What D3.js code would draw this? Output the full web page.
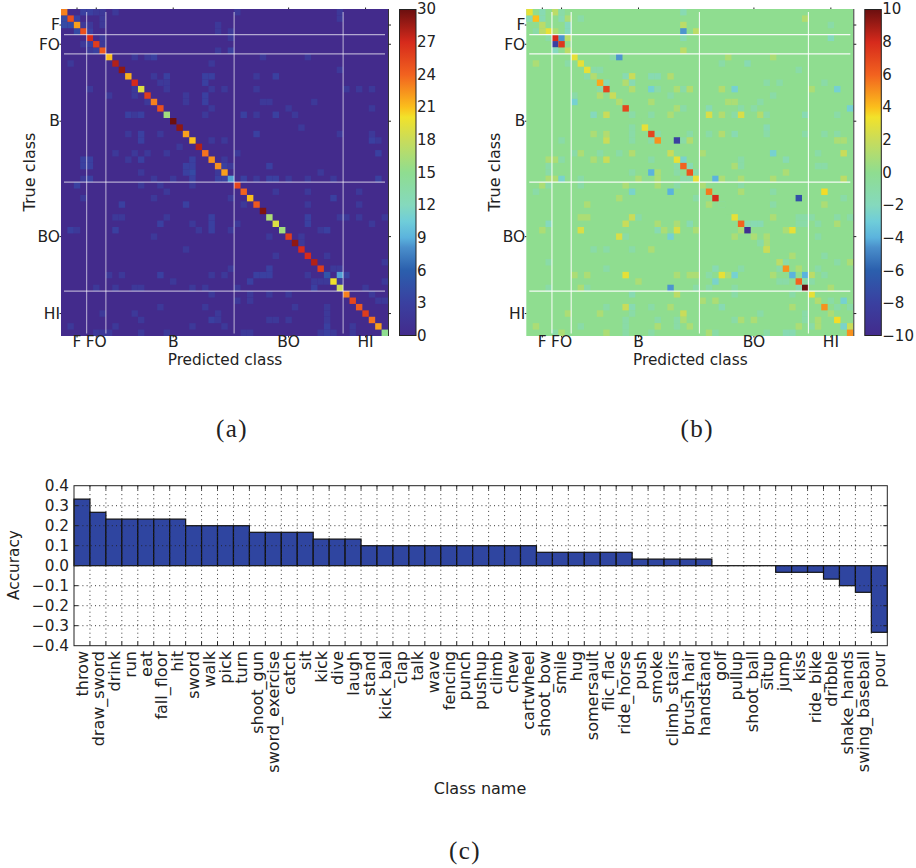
<!DOCTYPE html>
<html>
<head>
<meta charset="utf-8">
<script src="https://d3js.org/d3.v7.min.js"></script>
<style>
body { margin: 0; background: #fff; }
svg { display: block; }
text { font-family: "DejaVu Sans", sans-serif; fill: #222; }
.cap { font-family: "Liberation Serif", serif; font-size: 25px; letter-spacing: 1.5px; }
</style>
</head>
<body>
<svg id="fig" width="916" height="868"></svg>
<script>
// class names, sorted as in the bar chart
var classNames = ["throw","draw_sword","drink","run","eat","fall_floor","hit","sword","walk","pick","turn",
  "shoot_gun","sword_exercise","catch","sit","kick","dive","laugh","stand","kick_ball","clap","talk","wave",
  "fencing","punch","pushup","climb","chew","cartwheel","shoot_bow","smile","hug","somersault","flic_flac",
  "ride_horse","push","smoke","climb_stairs","brush_hair","handstand","golf","pullup","shoot_ball","situp",
  "jump","kiss","ride_bike","dribble","shake_hands","swing_baseball","pour"];
var accuracy = [.333,.267,.233,.233,.233,.233,.233,.2,.2,.2,.2,.167,.167,.167,.167,.133,.133,.133,
  .1,.1,.1,.1,.1,.1,.1,.1,.1,.1,.1,.067,.067,.067,.067,.067,.067,.033,.033,.033,.033,.033,
  0,0,0,0,-.033,-.033,-.033,-.067,-.1,-.133,-.333];

// groups marked on the confusion matrices
var groupNames = ["F","FO","B","BO","HI"];
var groupTicks = [2.5,5.5,17.5,35.5,47.5];
var groupEdges = [4,7,27,44];

// confusion matrix (a): diagonal, then [row, col, value]
var diagA = [23,25,22,25,27,26,24.5,21,28,29,21.5,27,19,26,23,25,16,30,29,22,21,28,23.5,22.5,22.5,22,8.5,
  25.5,24,21,24.5,29.5,16.5,19,16,26,29,27,27,28,26,5,20,18,23,25.5,24.5,26,23.5,22,15];
var offA = [[0,3,3],[0,4,3],[0,5,2],[0,6,2],[0,8,2],[0,27,2],[0,43,2],
  [1,0,4],[1,2,3],[1,6,2],[1,43,2],
  [2,0,4],[2,1,4],[2,3,2],[2,4,2],[2,6,2],[2,24,2],
  [3,2,4],[3,4,3],[3,24,2],[3,26,2],
  [4,6,2],[4,26,2],
  [5,3,2],[5,4,3],[5,6,2],
  [6,4,2],[6,5,3],[6,24,2],[6,26,3],
  [7,11,2],[7,13,2],[7,14,3],[7,31,2],[7,38,2],
  [8,1,2],[8,23,2],
  [9,43,2],
  [10,14,2],[10,16,3],[10,22,3],[10,23,3],[10,30,2],[10,33,3],
  [11,15,2],[11,16,2],[11,22,3],
  [12,4,2],[12,11,2],[12,16,2],[12,23,2],[12,25,2],[12,30,2],[12,44,2],[12,46,2],[12,48,2],
  [13,7,2],[13,11,2],[13,19,2],[13,22,3],
  [14,13,2],[14,19,2],[14,22,3],[14,31,2],[14,32,2],[14,39,2],
  [15,23,2],[15,35,2],[15,48,2],
  [16,10,3],[16,11,2],[16,12,3],[16,22,2],[16,28,3],[16,30,2],[16,33,3],[16,36,2],
  [18,37,2],
  [19,10,2],[19,12,3],[19,15,2],[19,30,3],[19,43,2],[19,48,2],
  [20,12,3],[20,23,2],[20,25,2],[20,48,3],[20,49,2],
  [21,18,2],
  [22,8,2],[22,11,2],[22,13,2],[22,16,2],[22,27,2],[22,49,3],
  [23,3,3],[23,4,3],[23,10,2],[23,12,3],[23,20,3],[23,25,2],
  [24,3,3],[24,4,3],[24,19,3],[24,20,3],[24,25,3],[24,26,2],[24,32,3],
  [25,12,2],[25,19,3],[25,20,4],[25,24,2],[25,40,2],
  [26,3,2],[26,4,3],[26,14,2],[26,17,2],[26,20,3],[26,24,3],[26,25,3],[26,28,3],[26,30,2],[26,32,3],[26,33,3],[26,35,2],[26,38,2],[26,42,2],[26,49,3],
  [27,2,3],[27,12,2],[27,15,2],[27,20,2],
  [28,16,2],[28,33,2],[28,38,2],[28,46,2],
  [29,3,2],[29,14,2],[29,26,2],[29,42,3],
  [30,9,3],[30,19,3],[30,28,2],[30,38,2],[30,46,2],
  [32,8,2],[32,9,2],[32,16,2],[32,23,3],[32,38,3],[32,43,2],[32,44,2],[32,46,2],[32,50,2],
  [33,15,3],[33,20,2],[33,23,3],[33,27,2],[33,38,3],[33,48,2],
  [34,1,3],[34,2,2],[34,8,3],[34,21,2],[34,23,3],[34,26,2],[34,40,2],[34,41,3],
  [35,14,2],[35,32,2],[35,37,2],
  [36,37,2],
  [37,19,2],
  [38,33,2],[38,41,2],
  [39,50,2],
  [40,26,2],[40,32,3],[40,42,2],[40,43,2],
  [41,7,2],[41,9,2],[41,15,3],[41,23,2],[41,25,2],[41,30,3],[41,31,3],[41,32,3],[41,38,2],[41,43,8.5],[41,44,3],
  [42,17,2],[42,29,3],[42,39,2],[42,40,2],[42,41,2],[42,43,2],[42,50,2],
  [43,5,2],[43,8,2],[43,11,2],[43,12,2],[43,20,2],[43,22,2],[43,27,2],[43,39,3],[43,47,2],
  [44,23,2],[44,29,2],[44,32,2],[44,35,2],[44,48,2],
  [45,27,2],[45,29,2],[45,49,2],[45,50,2],
  [46,15,2],[46,22,2],[46,36,2],[46,41,2],
  [47,6,2],[47,11,2],[47,24,2],[47,41,2],
  [48,12,2],[48,23,3],[48,24,2],[48,32,2],[48,33,2],[48,35,2],[48,41,2],
  [49,1,2],[49,8,2],[49,20,2],[49,25,2],[49,41,3],[49,45,2],
  [50,5,2],[50,6,2],[50,7,2],[50,12,2],[50,16,2],[50,28,2],[50,29,2],[50,40,2],[50,41,3],[50,42,2],[50,45,2]];

// difference matrix (b): diagonal, then [row, col, value]
var diagB = [3,4,1.5,3,8,7.5,1.5,3,3,3,1.2,4.5,7,2,1.2,7,-1,0,3,7,5,0,2,3,6,6.5,3,1,5.5,8,0,0,3,6,-9.5,1,-1,2,0,1.5,5,-4,6,10,3,1.2,5,1,3.5,-2.5,5];
var offB = [[0,2,-1.5],[0,4,1.5],[0,5,-1],[0,24,-1.5],
  [1,0,-1.5],[1,2,-1.5],[1,5,-1.5],[1,6,1],[1,8,-1],[1,43,1.2],
  [2,6,-2],[2,24,1.5],[2,47,-1],
  [3,1,-1],[3,2,1.5],[3,4,1],[3,6,-2],[3,24,-4.5],[3,26,1.5],
  [4,3,-1],[4,5,-4.5],[4,6,1.5],[4,24,-1.5],[4,47,-2],
  [5,4,-8],
  [6,4,-2],[6,24,1.5],
  [7,13,-1],[7,14,-4.5],[7,31,1],[7,38,1],
  [8,1,1],[8,6,-1],[8,30,-1],[8,34,-1.5],
  [9,10,-1],[9,11,-1],[9,42,-1],
  [10,9,-1],[10,15,-1.5],[10,16,2],[10,19,-1.5],[10,20,-1.5],[10,22,1.2],
  [11,12,-1.5],[11,15,1.2],[11,16,-1.5],[11,37,-1],[11,39,-1],[11,46,-1],
  [12,11,-1],[12,16,1.2],[12,19,-2.7],[12,20,-1],[12,23,1],[12,24,-1],[12,25,1.2],[12,30,1.2],[12,32,-2.7],[12,44,1],[12,48,-2.7],
  [13,7,-1],[13,11,1.2],[13,22,-1],[13,38,-1],
  [14,7,-2.7],[14,19,1],[14,31,1],[14,32,1],[14,36,-1],
  [15,23,1],[15,24,-1],[15,28,-1.5],[15,33,-1],[15,35,-1],[15,50,-2.7],
  [16,10,-2],[16,12,2],[16,16,-1],[16,19,-1],[16,22,1],[16,28,2.5],[16,30,1.2],[16,32,-1],[16,33,2.5],[16,36,1.2],[16,37,-1],[16,43,-1.5],[16,48,-1],
  [18,16,-1],[18,37,-1.5],
  [19,10,1],[19,12,1.2],[19,16,-1],[19,20,-1],[19,25,-1],[19,28,-1],[19,30,1.2],[19,32,-1.5],[19,37,-1],[19,43,-1],[19,46,-1],[19,48,-1],
  [20,5,-1],[20,12,2],[20,16,-1],[20,19,-1],[20,23,-8],[20,24,-1],[20,25,1.2],[20,48,1],[20,49,1],
  [22,7,-1],[22,8,1],[22,11,-1],[22,14,-1],[22,16,1.2],[22,27,1],[22,38,-2.7],[22,45,-1],[22,49,2],
  [23,3,1],[23,4,1],[23,5,-1],[23,10,1],[23,12,2],[23,19,-1],[23,24,-2.5],[23,33,-1],[23,40,-1.5],
  [24,3,-1],[24,23,-1],[24,25,-1.5],[24,32,1],[24,33,-1],[24,45,-1],[24,46,-1],
  [25,3,-1],[25,16,-1],[25,19,-4],[25,20,1],[25,23,-1],[25,26,-1],[25,40,1],
  [26,3,1],[26,4,1],[26,5,-2.5],[26,8,-1],[26,17,1],[26,20,1],[26,24,-1],[26,25,-1],[26,29,-4],[26,30,1],[26,33,1],[26,38,1],[26,49,1.5],
  [27,2,1],[27,3,-1],[27,8,-1],[27,15,1],[27,20,1],[27,23,-1],[27,33,-1],
  [28,1,-1],[28,16,-2.5],[28,22,-4],[28,33,1],[28,38,-1],[28,46,3.5],
  [29,14,1],[29,26,-1],[29,42,-7],[29,49,-1],
  [30,9,1],[30,28,1],[30,30,-1.5],[30,38,-1],[30,46,1],
  [32,8,1],[32,9,1],[32,16,2],[32,17,-1],[32,38,1],[32,42,-1],[32,43,-1],[32,44,-1],[32,48,-1],[32,50,-1],
  [33,3,-2],[33,15,2],[33,20,1],[33,23,1],[33,25,-1.5],[33,34,-1.5],[33,35,-1.5],[33,36,-1.5],[33,42,-1],[33,43,-1],[33,45,-1],[33,48,1],
  [34,2,1],[34,8,2.5],[34,20,-1.5],[34,21,1],[34,23,2.5],[34,26,1],[34,33,1],[34,40,1],[34,41,3],
  [35,14,2.5],[35,15,-1],[35,22,-2.7],[35,32,1],[35,37,1],[35,45,-1],
  [36,36,-1],[36,37,1],
  [37,10,-1],[37,12,-1],[37,16,-1],[37,19,1],[37,37,2],
  [38,41,1],[38,46,-1],
  [39,3,-1],[39,40,-1],[39,48,-1],[39,50,1],
  [40,12,-1],[40,29,-1.5],[40,33,-1],[40,39,-1],[40,42,1],[40,45,-1],
  [41,7,1],[41,9,1],[41,15,3],[41,23,1],[41,25,1],[41,26,1],[41,28,-1],[41,30,3],[41,31,1],[41,32,-2.7],[41,38,1],[41,43,-4],[41,44,1.5],[41,46,-1],
  [42,17,1],[42,29,-2.5],[42,39,-1],[42,40,-1],[42,43,-1],[42,44,-1],
  [43,3,-1],[43,8,1],[43,9,-1],[43,22,-4.5],[43,26,-1],[43,28,-1],[43,32,-1],[43,42,-1.5],[43,47,1],
  [44,16,-1.5],[44,23,1.5],[44,32,-1],[44,41,-1],
  [45,27,1],[45,29,1],[45,47,-1],[45,49,-2.7],
  [46,12,-1],[46,15,2],[46,16,-1.5],[46,19,-1],[46,22,1],[46,30,-1.5],[46,41,1],[46,48,-1],[46,50,-1],
  [47,6,1],[47,11,1],[47,16,-1],[47,24,2],[47,36,-1],[47,43,-1],[47,47,-1],
  [48,15,-1],[48,20,-1],[48,23,-1],[48,24,1],[48,32,-1],[48,33,1],[48,35,1],[48,43,-1],[48,45,1],
  [49,1,1],[49,8,-1],[49,15,-1],[49,20,1],[49,23,-1],[49,25,1],[49,42,1],[49,44,-1],[49,45,1],[49,50,2],
  [50,4,-1],[50,5,1],[50,12,1],[50,15,-1],[50,19,-1],[50,28,1],[50,29,-1],[50,37,-1],[50,40,-1.5],[50,41,-1.5]];

// colour map, as fractions of the range
var cmapAt = [0,.1,.2,.27,.3,.35,.4,.5,.6,.67,.7,.8,.9,1];
var cmapHex = ["#432b8c","#3a40a0","#2b5fad","#4a8fcb","#5bb3dd","#6fcdd9","#85d9bd","#8fdd90","#c9dc5a","#f2e22a","#fbbf1c","#f2621f","#d62a1c","#6b0f0f"];

var ticksA = d3.range(0, 31, 3);
var ticksB = d3.range(-10, 11, 2);
var accTicks = [-.4,-.3,-.2,-.1,0,.1,.2,.3,.4];

var svg = d3.select("#fig");
var defs = svg.append("defs");
var n = classNames.length;
var fmtMinus = function(d) { return d < 0 ? "\u2212" + Math.abs(d) : "" + d; };
var fmtAcc = function(d) { return (d < 0 ? "\u2212" : "") + Math.abs(d).toFixed(1); };

function heatmap(cfg) {
  var x = d3.scaleBand().domain(d3.range(n)).range([cfg.left, cfg.left + 327]);
  var y = d3.scaleBand().domain(d3.range(n)).range([9, 336]);
  var pos = d3.scaleLinear().domain([0, n]);
  var color = d3.scaleLinear()
    .domain(cmapAt.map(function(t) { return cfg.lo + t * (cfg.hi - cfg.lo); }))
    .range(cmapHex);

  var cells = cfg.off.slice();
  cfg.diag.forEach(function(v, i) { cells.push([i, i, v]); });

  var g = svg.append("g");
  g.append("rect").attr("x", cfg.left).attr("y", 9).attr("width", 327).attr("height", 327)
    .attr("fill", color(0));
  g.selectAll(".cell").data(cells).enter().append("rect")
    .attr("class", "cell")
    .attr("x", function(d) { return x(d[1]); })
    .attr("y", function(d) { return y(d[0]); })
    .attr("width", x.bandwidth())
    .attr("height", y.bandwidth())
    .attr("fill", function(d) { return color(d[2]); });

  // group separators stop a little short of the frame
  var px = pos.copy().range([cfg.left, cfg.left + 327]);
  var py = pos.copy().range([9, 336]);
  groupEdges.forEach(function(e) {
    g.append("line").attr("x1", px(e)).attr("x2", px(e)).attr("y1", 12).attr("y2", 333.5)
      .attr("stroke", "#fff").attr("stroke-opacity", cfg.lineOp).attr("stroke-width", 1.1);
    g.append("line").attr("y1", py(e)).attr("y2", py(e)).attr("x1", cfg.left + 3).attr("x2", cfg.left + 324)
      .attr("stroke", "#fff").attr("stroke-opacity", cfg.lineOp).attr("stroke-width", 1.1);
  });

  // right hand spine with its ticks
  g.append("line").attr("x1", cfg.left + 327.5).attr("x2", cfg.left + 327.5).attr("y1", 9).attr("y2", 336)
    .attr("stroke", "#333").attr("stroke-width", 1);
  groupTicks.forEach(function(t) {
    g.append("line").attr("x1", cfg.left + 327.5).attr("x2", cfg.left + 330).attr("y1", py(t)).attr("y2", py(t)).attr("stroke", "#222");
    g.append("line").attr("x1", px(t)).attr("x2", px(t)).attr("y1", 9).attr("y2", 7.5).attr("stroke", "#222");
    g.append("line").attr("y1", py(t)).attr("y2", py(t)).attr("x1", cfg.left).attr("x2", cfg.left - 1.5).attr("stroke", "#222");
    g.append("line").attr("x1", px(t)).attr("x2", px(t)).attr("y1", 336).attr("y2", 337.5).attr("stroke", "#222");
  });

  groupNames.forEach(function(name, i) {
    g.append("text").attr("x", cfg.left - 1).attr("y", py(groupTicks[i]))
      .attr("dy", "0.34em").attr("text-anchor", "end").attr("font-size", 15.5).text(name);
    g.append("text").attr("x", px(groupTicks[i])).attr("y", 347)
      .attr("text-anchor", "middle").attr("font-size", 15.5).text(name);
  });

  g.append("text").attr("x", cfg.left + 164).attr("y", 365)
    .attr("text-anchor", "middle").attr("font-size", 15.3).text("Predicted class");
  g.append("text").attr("transform", "translate(" + (cfg.left - 26) + ",172) rotate(-90)")
    .attr("text-anchor", "middle").attr("font-size", 16).text("True class");

  // colour bar
  var gid = "grad" + Math.round(cfg.left);
  var grad = defs.append("linearGradient").attr("id", gid)
    .attr("x1", 0).attr("x2", 0).attr("y1", 1).attr("y2", 0);
  cmapAt.forEach(function(t, i) {
    grad.append("stop").attr("offset", t).attr("stop-color", cmapHex[i]);
  });
  var barY = d3.scaleLinear().domain([cfg.lo, cfg.hi]).range([336, 9]);
  g.append("rect").attr("x", cfg.left + 338.5).attr("y", 9.5).attr("width", 16.5).attr("height", 326)
    .attr("fill", "url(#" + gid + ")").attr("stroke", "#222").attr("stroke-width", 1);
  g.selectAll(".cb").data(cfg.ticks).enter().append("text")
    .attr("class", "cb")
    .attr("x", cfg.left + 356)
    .attr("y", function(d) { return barY(d); })
    .attr("dy", "0.34em")
    .attr("font-size", 15)
    .text(fmtMinus);

  g.append("text").attr("class", "cap").attr("x", cfg.left + 171).attr("y", 437)
    .attr("text-anchor", "middle").text(cfg.cap);
}

heatmap({ left: 61, diag: diagA, off: offA, lo: 0, hi: 30, ticks: ticksA, lineOp: 0.6, cap: "(a)" });
heatmap({ left: 526.3, diag: diagB, off: offB, lo: -10, hi: 10, ticks: ticksB, lineOp: 0.9, cap: "(b)" });

// accuracy difference bars
var plotLeft = 74, plotRight = 887.3, plotTop = 485.7, plotBottom = 645.7;
var xb = d3.scaleBand().domain(classNames).range([plotLeft, plotRight]);
var yb = d3.scaleLinear().domain([-.4, .4]).range([plotBottom, plotTop]);
var c = svg.append("g");

c.selectAll(".bar").data(accuracy).enter().append("rect")
  .attr("class", "bar")
  .attr("x", function(d, i) { return xb(classNames[i]); })
  .attr("y", function(d) { return yb(Math.max(d, 0)); })
  .attr("width", xb.bandwidth())
  // zero bars still show as a thin line
  .attr("height", function(d) { return Math.max(Math.abs(yb(d) - yb(0)), 0.01); })
  .attr("fill", "#2f45a0")
  .attr("stroke", "#111")
  .attr("stroke-width", 1.2);

// grid: vertical lines fall on the bar edges
classNames.slice(1).forEach(function(name) {
  c.append("line").attr("x1", xb(name)).attr("x2", xb(name)).attr("y1", plotTop).attr("y2", plotBottom)
    .attr("stroke", "#222").attr("stroke-dasharray", "1,3.2").attr("stroke-width", 0.9);
  c.append("line").attr("x1", xb(name)).attr("x2", xb(name)).attr("y1", plotTop).attr("y2", plotTop + 4).attr("stroke", "#222");
  c.append("line").attr("x1", xb(name)).attr("x2", xb(name)).attr("y1", plotBottom).attr("y2", plotBottom - 4).attr("stroke", "#222");
});
accTicks.forEach(function(t) {
  if (t > -.4 && t < .4) {
    c.append("line").attr("x1", plotLeft).attr("x2", plotRight).attr("y1", yb(t)).attr("y2", yb(t))
      .attr("stroke", "#222").attr("stroke-dasharray", "1,3.2").attr("stroke-width", 0.9);
    c.append("line").attr("x1", plotLeft).attr("x2", plotLeft + 4).attr("y1", yb(t)).attr("y2", yb(t)).attr("stroke", "#222");
    c.append("line").attr("x1", plotRight).attr("x2", plotRight - 4).attr("y1", yb(t)).attr("y2", yb(t)).attr("stroke", "#222");
  }
  c.append("text").attr("x", plotLeft - 5).attr("y", yb(t)).attr("dy", "0.36em")
    .attr("text-anchor", "end").attr("font-size", 15.3)
    .text(fmtAcc(t));
});
c.append("rect").attr("x", plotLeft).attr("y", plotTop).attr("width", plotRight - plotLeft).attr("height", plotBottom - plotTop)
  .attr("fill", "none").attr("stroke", "#222").attr("stroke-width", 1);

c.selectAll(".name").data(classNames).enter().append("text")
  .attr("class", "name")
  .attr("transform", function(d) { return "translate(" + (xb(d) + xb.bandwidth() / 2) + ",651) rotate(-90)"; })
  .attr("dy", "0.36em")
  .attr("text-anchor", "end")
  .attr("font-size", 16)
  .text(function(d) { return d; });

c.append("text").attr("x", 480).attr("y", 794).attr("text-anchor", "middle").attr("font-size", 16).text("Class name");
c.append("text").attr("transform", "translate(19,565) rotate(-90)").attr("text-anchor", "middle")
  .attr("font-size", 15.3).text("Accuracy");
c.append("text").attr("class", "cap").attr("x", 465).attr("y", 859).attr("text-anchor", "middle").text("(c)");
</script>
</body>
</html>
